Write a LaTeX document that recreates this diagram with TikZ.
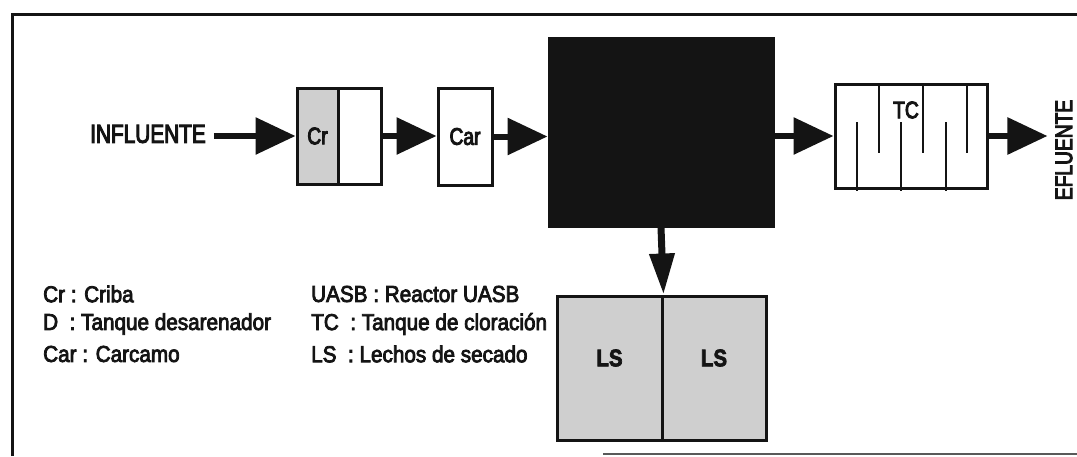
\documentclass[tikz,border=0pt]{standalone}
\usepackage{fontspec}
\setmainfont{Liberation Sans}
\newfontfamily\legendfont{Liberation Sans}[FakeStretch=0.9, FakeBold=3.5]
\newfontfamily\narrowfont{Liberation Sans}[FakeStretch=0.8, FakeBold=4]
\newfontfamily\bedfont{Liberation Sans Bold}[FakeStretch=0.85, FakeBold=3]
\usetikzlibrary{arrows.meta,calc}
\definecolor{ink}{HTML}{141414}
\definecolor{fillgray}{HTML}{CFCFCF}

\tikzset{
  unit/.style={draw=ink, line width=3pt, inner sep=0pt},
  flow/.style={draw=ink, line width=6pt, -{Triangle[length=40pt,width=36pt]}},
  drop/.style={draw=ink, line width=7pt, -{Triangle[length=41pt,width=24pt]}},
  baffle/.style={draw=ink, line width=2.5pt},
  lbl/.style={font=\narrowfont\fontsize{24}{28}\selectfont, text=ink, inner sep=0pt},
  big lbl/.style={font=\narrowfont\fontsize{26}{30}\selectfont, text=ink, inner sep=0pt},
  bed lbl/.style={font=\bedfont\fontsize{24}{28}\selectfont, text=ink, inner sep=0pt},
  legend/.style={font=\legendfont\fontsize{23}{27}\selectfont, text=ink, inner sep=0pt, anchor=west},
}

\begin{document}
\begin{tikzpicture}[x=1pt,y=-1pt]
\useasboundingbox (0,0) rectangle (1077,456);

% outer frame
\draw[ink, line width=3pt] (12,456) -- (12,14) -- (1077,14);
\draw[black!65, line width=2pt] (603,454) -- (1077,454);

% inlet label
\node[big lbl] (infl) at (148,134) {INFLUENTE};

% screen (Cr) and its second chamber
\node[unit, fill=fillgray, minimum width=41pt, minimum height=96pt] (crl) at (317.5,136) {};
\node[lbl] (crt) at (crl.center) {Cr};
\node[unit, minimum width=43pt, minimum height=96pt] (crr) at (359.5,136) {};

% pumping well (Car)
\node[unit, minimum width=54pt, minimum height=97pt] (car) at (465,136.5) {};
\node[lbl] (cart) at (car.center) {Car};

% UASB reactor
\node[unit, fill=ink, minimum width=224pt, minimum height=188pt] (uasb) at (661,132) {};

% chlorination tank (TC)
\node[unit, minimum width=152pt, minimum height=104pt] (tc) at (911,136) {};
\node[lbl] (tct) at (906,110) {TC};
\foreach \bx in {879,923,967} \draw[baffle] (\bx,85) -- (\bx,153);
\foreach \bx in {857,901,946} \draw[baffle] (\bx,122) -- (\bx,191);

% outlet label
\node[lbl, rotate=90] (efl) at (1064,150) {EFLUENTE};

% drying beds (LS)
\node[unit, fill=fillgray, minimum width=105pt, minimum height=144pt] (lsl) at (609.5,368) {};
\node[unit, fill=fillgray, minimum width=104pt, minimum height=144pt] (lsr) at (714,368) {};
\node[bed lbl] (lslt) at ([yshift=10pt]lsl.center) {LS};
\node[bed lbl] (lsrt) at ([yshift=10pt]lsr.center) {LS};

% flow connectors
\draw[flow] ([xshift=8pt]infl.east |- crl.west) -- (crl.west);
\draw[flow] (crr.east) -- (crr.east -| car.west);
\draw[flow] (car.east) -- (car.east -| uasb.west);
\draw[flow] (uasb.east |- tc.west) -- (tc.west);
\draw[flow] (tc.east) -- ([xshift=-8pt]tc.east -| efl.north);
\draw[drop] (uasb.south) -- (lsl.north east);

% legend
\node[legend] (l1) at (43,294) {Cr : Criba};
\node[legend] (l2) at (43,324) {D~ : Tanque desarenador};
\node[legend] (l3) at (43,354) {Car : Carcamo};
\node[legend] (l4) at (311,294) {UASB : Reactor UASB};
\node[legend] (l5) at (311,324) {TC~ : Tanque de cloración};
\node[legend] (l6) at (311,354) {LS~ : Lechos de secado};
\end{tikzpicture}
\end{document}
